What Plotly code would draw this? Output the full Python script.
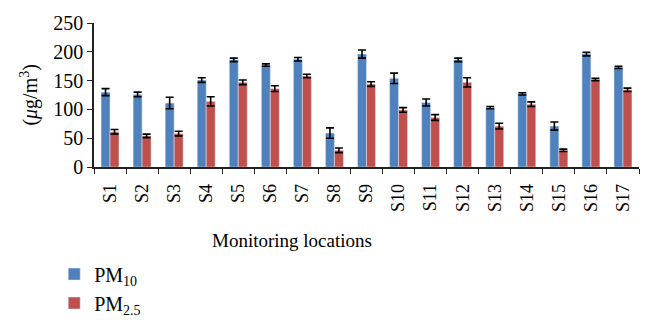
import plotly.graph_objects as go

sites = ["S1","S2","S3","S4","S5","S6","S7","S8","S9","S10","S11","S12","S13","S14","S15","S16","S17"]
pm10 = [130, 126, 111, 151, 186, 177, 187, 59, 196, 154, 112, 186, 103, 127, 71, 196, 173]
pm10_err = [6, 4, 10, 4, 3, 2, 3, 9, 7, 9, 6, 3, 2, 2, 7, 3, 2]
pm25 = [61, 54, 58, 114, 147, 136, 158, 29, 144, 99, 86, 147, 71, 109, 29, 152, 134]
pm25_err = [4, 3, 4, 8, 4, 5, 3, 4, 4, 4, 5, 8, 5, 4, 2, 2, 3]
yticks = [0, 50, 100, 150, 200, 250]

FONT = "Liberation Serif"
fig = go.Figure()
fig.add_trace(go.Bar(x=sites, y=pm10, name="PM<sub>10</sub>", marker_color="#4F81BD",
                     error_y=dict(type="data", array=pm10_err, color="black", thickness=1.6, width=4)))
fig.add_trace(go.Bar(x=sites, y=pm25, name="PM<sub>2.5</sub>", marker_color="#C0504D",
                     error_y=dict(type="data", array=pm25_err, color="black", thickness=1.6, width=4)))

fig.update_layout(
    width=654, height=326,
    margin=dict(l=94, r=15, t=23, b=159, autoexpand=False),
    plot_bgcolor="white", paper_bgcolor="white",
    barmode="group", bargap=0.44, bargroupgap=0,
    font=dict(family=FONT, color="black", size=18),
    showlegend=True,
    legend=dict(x=-0.073, y=-0.608, xanchor="left", yanchor="top",
                font=dict(size=20, family=FONT), orientation="v",
                bgcolor="rgba(0,0,0,0)"),
    annotations=[
        dict(text="Monitoring locations", x=0.364, y=-0.51, xref="paper", yref="paper",
             showarrow=False, font=dict(size=19, family=FONT), xanchor="center", yanchor="middle"),
        dict(text="(<i>μ</i>g/m<sup>3</sup>)", x=-0.12, y=0.5, xref="paper", yref="paper",
             showarrow=False, textangle=-90, font=dict(size=20, family=FONT), xanchor="center", yanchor="middle"),
    ],
)
fig.update_xaxes(type="category", tickangle=-90, showline=True, linecolor="#222", linewidth=1.5,
                 ticks="outside", tickson="boundaries", ticklen=5, tickcolor="#222",
                 ticklabelstandoff=8,
                 tickfont=dict(size=18, family=FONT), showgrid=False)
fig.update_yaxes(range=[0, 250], tickvals=yticks, showline=True, linecolor="#222", linewidth=1.5,
                 ticks="outside", ticklen=5, tickcolor="#222", showgrid=False, zeroline=False,
                 tickfont=dict(size=20, family=FONT))

fig.write_html("out.html")
